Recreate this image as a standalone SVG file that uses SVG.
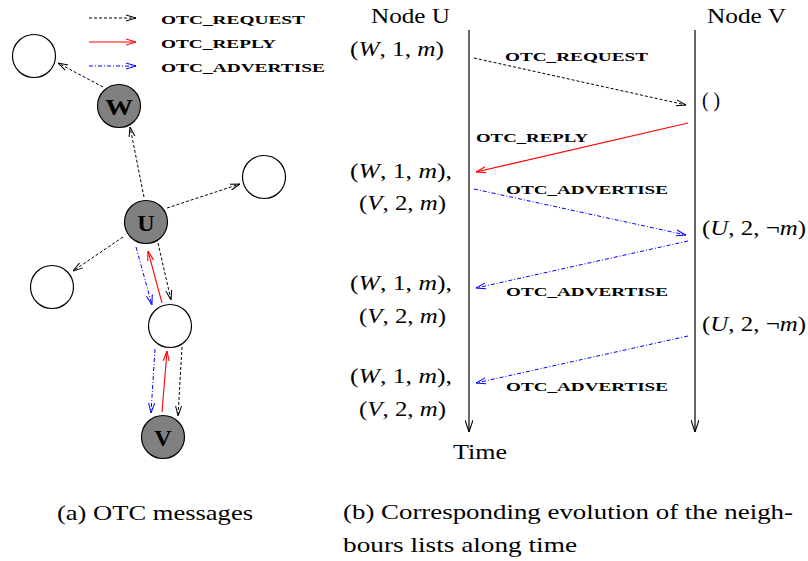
<svg xmlns="http://www.w3.org/2000/svg" width="808" height="561" viewBox="0 0 808 561">
<defs>
<style>
.rm{font-family:"Liberation Serif","Times New Roman",serif;font-size:22px;fill:#000}
.sc{font-family:"Liberation Serif","Times New Roman",serif;font-size:13px;font-weight:bold;fill:#000}
.nl{font-family:"Liberation Serif","Times New Roman",serif;font-size:24px;font-weight:bold;fill:#000;text-anchor:middle}
.i{font-style:italic}
.req{stroke:#000;stroke-width:1;fill:none;stroke-dasharray:3,2;marker-end:url(#ak)}
.rep{stroke:#ff0000;stroke-width:1.1;fill:none;marker-end:url(#ar)}
.adv{stroke:#0000ff;stroke-width:1;fill:none;stroke-dasharray:4,2,1,2;marker-end:url(#ab)}
.life{stroke:#000;stroke-width:1.2;fill:none;marker-end:url(#at)}
.empty{fill:#fff;stroke:#000;stroke-width:1.2}
.full{fill:#808080;stroke:#000;stroke-width:1.2}
</style>
<marker id="ak" viewBox="0 0 10 8" refX="10" refY="4" markerWidth="10" markerHeight="8" markerUnits="userSpaceOnUse" orient="auto">
<path d="M0,1 L10,4 L0,7" fill="none" stroke="#000" stroke-width="1"/>
</marker>
<marker id="ar" viewBox="0 0 10 8" refX="10" refY="4" markerWidth="10" markerHeight="8" markerUnits="userSpaceOnUse" orient="auto">
<path d="M0,1 L10,4 L0,7" fill="none" stroke="#ff0000" stroke-width="1.1"/>
</marker>
<marker id="ab" viewBox="0 0 10 8" refX="10" refY="4" markerWidth="10" markerHeight="8" markerUnits="userSpaceOnUse" orient="auto">
<path d="M0,1 L10,4 L0,7" fill="none" stroke="#0000ff" stroke-width="1"/>
</marker>
<marker id="at" viewBox="0 0 12 8" refX="12" refY="4" markerWidth="12" markerHeight="8" markerUnits="userSpaceOnUse" orient="auto">
<path d="M0,0 L12,4 L0,8" fill="none" stroke="#000" stroke-width="1.1"/>
</marker>
</defs>
<rect width="808" height="561" fill="#fff"/>

<g id="legend">
<line class="req" x1="89" y1="18" x2="136" y2="18"/>
<line class="rep" x1="89" y1="42" x2="136" y2="42"/>
<line class="adv" x1="89" y1="66" x2="136" y2="66"/>
<text class="sc" x="161" y="24" textLength="144" lengthAdjust="spacingAndGlyphs">OTC_REQUEST</text>
<text class="sc" x="161" y="48" textLength="115" lengthAdjust="spacingAndGlyphs">OTC_REPLY</text>
<text class="sc" x="161" y="72" textLength="164" lengthAdjust="spacingAndGlyphs">OTC_ADVERTISE</text>
</g>

<g id="connectors">
<line class="req" x1="103" y1="87" x2="58" y2="63"/>
<line class="req" x1="144" y1="197" x2="130" y2="127"/>
<line class="req" x1="167" y1="208" x2="240" y2="184"/>
<line class="req" x1="123" y1="237" x2="73" y2="271"/>
<line class="adv" x1="136" y1="247" x2="152" y2="305"/>
<line class="rep" x1="162" y1="303" x2="148" y2="251"/>
<line class="req" x1="158" y1="243" x2="171" y2="300"/>
<line class="adv" x1="155" y1="349" x2="151" y2="413"/>
<line class="rep" x1="162" y1="412" x2="167" y2="351"/>
<line class="req" x1="182" y1="347" x2="178" y2="416"/>
<line class="life" x1="469" y1="30" x2="469" y2="432"/>
<line class="life" x1="695" y1="30" x2="695" y2="432"/>
<line class="req" x1="474" y1="58" x2="686" y2="105"/>
<line class="rep" x1="688" y1="123" x2="476" y2="172"/>
<line class="adv" x1="474" y1="189" x2="686" y2="235"/>
<line class="adv" x1="688" y1="241" x2="476" y2="288"/>
<line class="adv" x1="688" y1="336" x2="476" y2="383"/>
</g>

<g id="node-tl"><circle class="empty" cx="34" cy="56" r="21.5"/></g>
<g id="node-w"><circle class="full" cx="119" cy="106" r="21.5"/><text class="nl" x="119" y="114.5" textLength="28" lengthAdjust="spacingAndGlyphs">W</text></g>
<g id="node-u"><circle class="full" cx="146" cy="222" r="21.5"/><text class="nl" x="146" y="230.5">U</text></g>
<g id="node-r"><circle class="empty" cx="264" cy="177" r="21.5"/></g>
<g id="node-l"><circle class="empty" cx="52" cy="287" r="21.5"/></g>
<g id="node-m"><circle class="empty" cx="170" cy="326" r="21.5"/></g>
<g id="node-v"><circle class="full" cx="163" cy="437" r="21.5"/><text class="nl" x="163" y="445.5">V</text></g>

<g id="seq-labels">
<text class="rm" x="371" y="23" textLength="79" lengthAdjust="spacingAndGlyphs">Node U</text>
<text class="rm" x="707" y="23" textLength="79" lengthAdjust="spacingAndGlyphs">Node V</text>
<text class="rm" x="453" y="459" textLength="54" lengthAdjust="spacingAndGlyphs">Time</text>
<text class="sc" x="505" y="61" textLength="143" lengthAdjust="spacingAndGlyphs">OTC_REQUEST</text>
<text class="sc" x="476" y="142" textLength="112" lengthAdjust="spacingAndGlyphs">OTC_REPLY</text>
<text class="sc" x="506" y="194" textLength="162" lengthAdjust="spacingAndGlyphs">OTC_ADVERTISE</text>
<text class="sc" x="506" y="296" textLength="162" lengthAdjust="spacingAndGlyphs">OTC_ADVERTISE</text>
<text class="sc" x="506" y="391" textLength="162" lengthAdjust="spacingAndGlyphs">OTC_ADVERTISE</text>

<text class="rm" x="350" y="56" textLength="94" lengthAdjust="spacingAndGlyphs">(<tspan class="i">W</tspan>, 1, <tspan class="i">m</tspan>)</text>
<text class="rm" x="350" y="178" textLength="102" lengthAdjust="spacingAndGlyphs">(<tspan class="i">W</tspan>, 1, <tspan class="i">m</tspan>),</text>
<text class="rm" x="359" y="210" textLength="87" lengthAdjust="spacingAndGlyphs">(<tspan class="i">V</tspan>, 2, <tspan class="i">m</tspan>)</text>
<text class="rm" x="350" y="290" textLength="102" lengthAdjust="spacingAndGlyphs">(<tspan class="i">W</tspan>, 1, <tspan class="i">m</tspan>),</text>
<text class="rm" x="359" y="323" textLength="87" lengthAdjust="spacingAndGlyphs">(<tspan class="i">V</tspan>, 2, <tspan class="i">m</tspan>)</text>
<text class="rm" x="350" y="383" textLength="102" lengthAdjust="spacingAndGlyphs">(<tspan class="i">W</tspan>, 1, <tspan class="i">m</tspan>),</text>
<text class="rm" x="359" y="416" textLength="87" lengthAdjust="spacingAndGlyphs">(<tspan class="i">V</tspan>, 2, <tspan class="i">m</tspan>)</text>
<text class="rm" x="702" y="107" textLength="18" lengthAdjust="spacingAndGlyphs">( )</text>
<text class="rm" x="702" y="235" textLength="104" lengthAdjust="spacingAndGlyphs">(<tspan class="i">U</tspan>, 2, ¬<tspan class="i">m</tspan>)</text>
<text class="rm" x="702" y="331" textLength="104" lengthAdjust="spacingAndGlyphs">(<tspan class="i">U</tspan>, 2, ¬<tspan class="i">m</tspan>)</text>
</g>

<g id="captions">
<text class="rm" x="57" y="520" textLength="196" lengthAdjust="spacingAndGlyphs">(a) OTC messages</text>
<text class="rm" x="343" y="519" textLength="450" lengthAdjust="spacingAndGlyphs">(b) Corresponding evolution of the neigh-</text>
<text class="rm" x="343" y="552" textLength="234" lengthAdjust="spacingAndGlyphs">bours lists along time</text>
</g>
</svg>
